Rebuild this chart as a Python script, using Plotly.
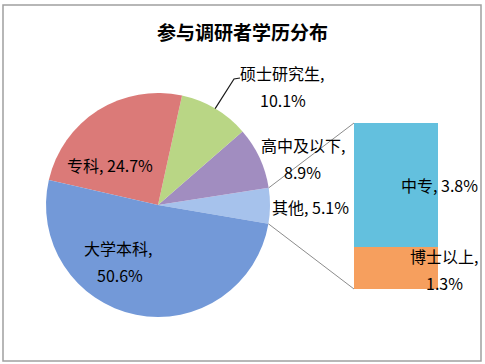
import math
import plotly.graph_objects as go

# ---------------- data ----------------
title_text = "参与调研者学历分布"
pie_labels = ["其他", "高中及以下", "硕士研究生", "专科", "大学本科"]
pie_values = [5.1, 8.9, 10.1, 24.7, 50.6]
bar_labels = ["博士以上", "中专"]
bar_values = [1.3, 3.8]

# ---------------- style / layout ----------------
W, H = 485, 364
FONT = "Noto Sans CJK SC, Noto Sans, sans-serif"
pie_colors = ["#a6c2ec", "#a18dc0", "#b9d685", "#db7a78", "#7399d8"]
bar_colors = ["#f69f5e", "#63c0de"]

PIE_CX, PIE_CY, PIE_R = 158, 205, 112          # px
ROTATION = 81.2
BAR_X0, BAR_X1, BAR_Y0, BAR_Y1 = 354, 438, 123, 289   # px (top/bottom)

def px(x):
    return x / W

def py(y):
    return 1 - y / H

# label placements (px, line centres)
pie_label_pos = {
    "其他": [(310, 207)],
    "高中及以下": [(302.5, 145), (302.5, 172)],
    "硕士研究生": [(282, 73), (282.5, 100)],
    "专科": [(110, 165)],
    "大学本科": [(117.5, 248), (119.5, 275)],
}
bar_label_pos = {
    "中专": [(439.5, 185)],
    "博士以上": [(443.5, 256), (444.5, 283)],
}

fig = go.Figure()

fig.add_trace(go.Pie(
    labels=pie_labels, values=pie_values, sort=False,
    direction="counterclockwise", rotation=ROTATION,
    marker=dict(colors=pie_colors, line=dict(width=0)),
    textinfo="none", hoverinfo="label+percent", showlegend=False,
    domain=dict(x=[px(PIE_CX - PIE_R), px(PIE_CX + PIE_R)],
                y=[py(PIE_CY + PIE_R), py(PIE_CY - PIE_R)]),
))

for lab, val, col in zip(bar_labels, bar_values, bar_colors):
    fig.add_trace(go.Bar(
        x=[0], y=[val], name=lab, width=1,
        marker=dict(color=col, line=dict(width=0)),
        showlegend=False, hoverinfo="name+y",
    ))

# slice angle geometry (clockwise from 12 o'clock, plotly ccw convention)
total = sum(pie_values)
ang = [v / total * 360 for v in pie_values]
def slice_bounds(i):
    if i == 0:
        return ROTATION, ROTATION + ang[0]
    start = ROTATION - sum(ang[1:i])
    return start - ang[i], start

def edge(theta, rr=PIE_R):
    t = math.radians(theta)
    return PIE_CX + rr * math.sin(t), PIE_CY - rr * math.cos(t)

shapes = []
# connector lines from "其他" slice to stacked bar
a_top, a_bot = slice_bounds(0)
for theta, by in [(a_top, BAR_Y0), (a_bot, BAR_Y1)]:
    ex, ey = edge(theta)
    shapes.append(dict(type="line", xref="paper", yref="paper",
                       x0=px(ex), y0=py(ey), x1=px(BAR_X0), y1=py(by),
                       line=dict(color="#8c8c8c", width=1)))

# leader line for 硕士研究生
i_m = pie_labels.index("硕士研究生")
s0, s1 = slice_bounds(i_m)
mx, my = edge((s0 + s1) / 2)
shapes.append(dict(type="path", xref="paper", yref="paper",
                   path=f"M {px(mx)} {py(my)} L {px(234)} {py(79)} L {px(240)} {py(78)}",
                   line=dict(color="#1a1a1a", width=1.2)))

# outer border
shapes.append(dict(type="rect", xref="paper", yref="paper",
                   x0=px(3), y0=py(361), x1=px(481), y1=py(5),
                   line=dict(color="#a0a0a0", width=1.5)))

annotations = [dict(text=f"<b>{title_text}</b>", x=px(242), y=py(31),
                    xref="paper", yref="paper", showarrow=False,
                    xanchor="center", yanchor="middle",
                    font=dict(family=FONT, size=19, color="#000000"))]

def add_labels(labels, values, pos):
    for lab, val in zip(labels, values):
        lines = pos[lab]
        if len(lines) == 1:
            texts = [f"{lab}, {val:.1f}%"]
        else:
            texts = [f"{lab},", f"{val:.1f}%"]
        for t, (x, y) in zip(texts, lines):
            annotations.append(dict(text=t, x=px(x), y=py(y), xref="paper", yref="paper",
                                    showarrow=False, xanchor="center", yanchor="middle",
                                    font=dict(family=FONT, size=16, color="#000000")))

add_labels(pie_labels, pie_values, pie_label_pos)
add_labels(bar_labels, bar_values, bar_label_pos)

fig.update_layout(
    width=W, height=H,
    margin=dict(l=0, r=0, t=0, b=0),
    paper_bgcolor="#ffffff", plot_bgcolor="rgba(0,0,0,0)",
    barmode="stack", bargap=0,
    xaxis=dict(domain=[px(BAR_X0), px(BAR_X1)], range=[-0.5, 0.5], visible=False, fixedrange=True),
    yaxis=dict(domain=[py(BAR_Y1), py(BAR_Y0)], range=[0, sum(bar_values)], visible=False, fixedrange=True),
    shapes=shapes, annotations=annotations,
    font=dict(family=FONT),
)

fig.write_html("out.html", config={"displayModeBar": False},
               post_script="document.body.style.margin='0';document.body.style.padding='0';")
